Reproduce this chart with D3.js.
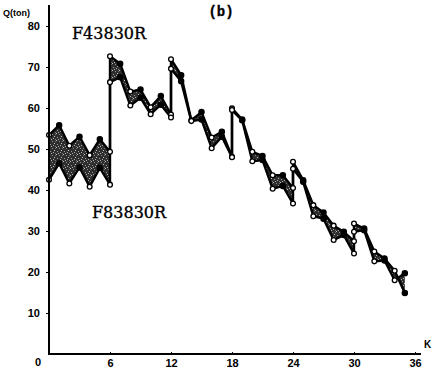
<!DOCTYPE html>
<html>
<head>
<meta charset="utf-8">
<script src="https://cdn.jsdelivr.net/npm/d3@7/dist/d3.min.js"></script>
<style>
  html, body { margin: 0; padding: 0; background: #fff; }
  svg { display: block; }
</style>
</head>
<body>
<svg id="chart" width="433" height="368"></svg>
<script>
// Step index K (boundary steps repeat: end of one block, start of the next)
const steps = [
  0, 1, 2, 3, 4, 5, 6,
  6, 7, 8, 9, 10, 11, 12,
  12, 13, 14, 15, 16, 17, 18,
  18, 19, 20, 21, 22, 23, 24,
  24, 25, 26, 27, 28, 29, 30,
  30, 31, 32, 33, 34, 35
];
// Load Q (ton), upper trace
const upperQ = [
  53.4, 55.8, 50.8, 53.0, 48.5, 52.4, 49.3,
  72.6, 70.8, 64.0, 64.5, 60.2, 62.9, 58.4,
  71.9, 68.0, 57.0, 59.0, 52.8, 54.2, 48.1,
  59.9, 57.2, 49.3, 48.3, 43.6, 43.6, 40.5,
  46.9, 42.4, 36.3, 34.5, 31.3, 29.8, 27.5,
  31.8, 30.6, 25.0, 23.3, 20.3, 14.9
];
// Load Q (ton), lower trace
const lowerQ = [
  42.5, 46.5, 41.6, 45.5, 40.8, 45.4, 41.3,
  66.3, 67.5, 60.6, 62.5, 58.5, 60.8, 57.7,
  69.6, 66.5, 56.8, 57.2, 50.2, 53.0, 48.0,
  59.5, 57.0, 47.0, 47.3, 40.3, 41.0, 36.7,
  45.2, 42.0, 33.6, 33.0, 27.8, 29.0, 24.5,
  29.8, 30.2, 22.6, 22.8, 18.0, 19.7
];
const xTicks = [6, 12, 18, 24, 30, 36];
const yTicks = [10, 20, 30, 40, 50, 60, 70, 80];
const upperName = "F43830R";
const lowerName = "F83830R";

const svg = d3.select("#chart");
const x = d3.scaleLinear().domain([0, 36]).range([49, 415]);
const y = d3.scaleLinear().domain([0, 80]).range([354, 26]);

// dark speckled fill for the band between the two traces
const defs = svg.append("defs");
const pat = defs.append("pattern")
  .attr("id", "stipple").attr("patternUnits", "userSpaceOnUse")
  .attr("width", 7).attr("height", 7);
pat.append("rect").attr("width", 7).attr("height", 7).attr("fill", "#2e2e2e");
const specks = [[0, 0, "#bdbdbd"], [3, 1, "#8c8c8c"], [5, 3, "#c4c4c4"], [1, 4, "#9a9a9a"],
                [4, 5, "#aaaaaa"], [6, 6, "#7a7a7a"], [2, 6, "#b0b0b0"], [6, 1, "#6e6e6e"]];
pat.selectAll("rect.s").data(specks).join("rect").attr("class", "s")
  .attr("x", d => d[0]).attr("y", d => d[1]).attr("width", 1).attr("height", 1)
  .attr("fill", d => d[2]);

const pts = steps.map((k, i) => ({ k, u: upperQ[i], l: lowerQ[i] }));

svg.append("path")
  .datum(pts)
  .attr("fill", "url(#stipple)")
  .attr("d", d3.area().x(d => x(d.k)).y0(d => y(d.l)).y1(d => y(d.u)));

const line = key => d3.line().x(d => x(d.k)).y(d => y(d[key]));
["u", "l"].forEach(key => {
  svg.append("path").datum(pts)
    .attr("fill", "none").attr("stroke", "#000")
    .attr("stroke-width", 2.4).attr("stroke-linejoin", "round")
    .attr("d", line(key));
});

// markers: hollow at even steps, solid at odd steps
["u", "l"].forEach(key => {
  svg.append("g").selectAll("circle").data(pts).join("circle")
    .attr("cx", d => x(d.k)).attr("cy", d => y(d[key]))
    .attr("r", d => d.k % 2 === 0 ? 2.4 : 2.6)
    .attr("fill", d => d.k % 2 === 0 ? "#fff" : "#000")
    .attr("stroke", "#000").attr("stroke-width", 1.3);
});

// axes
const yAxis = d3.axisLeft(y).tickValues(yTicks).tickSize(3).tickPadding(6);
const gy = svg.append("g").attr("transform", `translate(${x(0)},0)`).call(yAxis);
gy.select(".domain").remove();
gy.selectAll("text")
  .attr("font-family", "Liberation Sans, Arial, sans-serif")
  .attr("font-weight", "bold").attr("font-size", 11).attr("fill", "#000");
gy.selectAll("line").attr("stroke", "#000").attr("stroke-width", 1);

const xAxis = d3.axisBottom(x).tickValues(xTicks).tickSize(-2).tickPadding(5);
const gx = svg.append("g").attr("transform", `translate(0,${y(0)})`).call(xAxis);
gx.select(".domain").remove();
gx.selectAll("text")
  .attr("font-family", "Liberation Sans, Arial, sans-serif")
  .attr("font-weight", "bold").attr("font-size", 11).attr("fill", "#000");
gx.selectAll("line").attr("stroke", "#000");

svg.append("line").attr("x1", x(0)).attr("x2", x(0)).attr("y1", 5).attr("y2", y(0) + 1)
  .attr("stroke", "#000").attr("stroke-width", 2);
svg.append("line").attr("x1", x(0) - 1).attr("x2", 421).attr("y1", y(0)).attr("y2", y(0))
  .attr("stroke", "#000").attr("stroke-width", 2);

const txt = (s, px, py, opts = {}) => svg.append("text")
  .attr("x", px).attr("y", py).text(s)
  .attr("font-family", opts.family || "Liberation Sans, Arial, sans-serif")
  .attr("font-weight", opts.weight || "bold")
  .attr("font-size", opts.size || 11)
  .attr("text-anchor", opts.anchor || "start")
  .attr("stroke", opts.stroke ? "#000" : null)
  .attr("stroke-width", opts.stroke || null)
  .attr("fill", "#000");

txt("0", 38, 366, { anchor: "middle" });
txt("Q(ton)", 3, 16, { size: 9 });
txt("K", 424, 348, { size: 10 });
txt("(b)", 221, 16, { family: "Liberation Mono, monospace", size: 14, anchor: "middle", stroke: 0.3 });
txt(upperName, 72, 39, { family: "DejaVu Serif, serif", size: 16, weight: "normal", stroke: 0.35 });
txt(lowerName, 92, 218, { family: "DejaVu Serif, serif", size: 16, weight: "normal", stroke: 0.35 });
</script>
</body>
</html>
